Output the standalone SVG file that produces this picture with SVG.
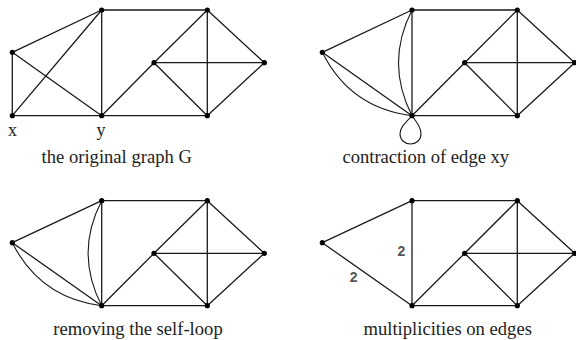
<svg xmlns="http://www.w3.org/2000/svg" width="576" height="340" viewBox="0 0 576 340">
<style>
.e{stroke:#1a1a1a;stroke-width:1.3;fill:none;stroke-linecap:round}
.c{stroke:#1a1a1a;stroke-width:1.1;fill:none}
.n{fill:#000}
.cap{font-family:"Liberation Serif","Times New Roman",serif;font-size:18.6px;fill:#222;text-anchor:middle}
.lab{font-family:"Liberation Serif","Times New Roman",serif;font-size:18px;fill:#222;text-anchor:middle}
.m{font-family:"Liberation Sans",Arial,sans-serif;font-size:14px;font-weight:bold;fill:#555;text-anchor:middle}
</style>
<defs>
<circle id="dot" r="2.6" class="n"/>
</defs>
<rect width="576" height="340" fill="#fff"/>

<!-- Panel 1: original graph G -->
<g id="panel1">
<g id="p1-edges">
<line class="e" x1="12.3" y1="52.3" x2="101.7" y2="10"/>
<line class="e" x1="12.3" y1="52.3" x2="12.3" y2="115.7"/>
<line class="e" x1="12.3" y1="52.3" x2="101.7" y2="115.7"/>
<line class="e" x1="12.3" y1="115.7" x2="101.7" y2="10"/>
<line class="e" x1="12.3" y1="115.7" x2="101.7" y2="115.7"/>
<line class="e" x1="101.7" y1="10" x2="101.7" y2="115.7"/>
<line class="e" x1="101.7" y1="10" x2="207.3" y2="10"/>
<line class="e" x1="101.7" y1="115.7" x2="154" y2="62.7"/>
<line class="e" x1="101.7" y1="115.7" x2="207.3" y2="115.7"/>
<line class="e" x1="154" y1="62.7" x2="207.3" y2="10"/>
<line class="e" x1="154" y1="62.7" x2="264.3" y2="62.7"/>
<line class="e" x1="154" y1="62.7" x2="207.3" y2="115.7"/>
<line class="e" x1="207.3" y1="10" x2="207.3" y2="115.7"/>
<line class="e" x1="207.3" y1="10" x2="264.3" y2="62.7"/>
<line class="e" x1="264.3" y1="62.7" x2="207.3" y2="115.7"/>
</g>
<g id="p1-a"><use href="#dot" x="12.3" y="52.3"/></g>
<g id="p1-x"><use href="#dot" x="12.3" y="115.7"/><text class="lab" x="12.5" y="136">x</text></g>
<g id="p1-t1"><use href="#dot" x="101.7" y="10"/></g>
<g id="p1-y"><use href="#dot" x="101.7" y="115.7"/><text class="lab" x="101" y="136">y</text></g>
<g id="p1-t2"><use href="#dot" x="207.3" y="10"/></g>
<g id="p1-m"><use href="#dot" x="154" y="62.7"/></g>
<g id="p1-r"><use href="#dot" x="264.3" y="62.7"/></g>
<g id="p1-b"><use href="#dot" x="207.3" y="115.7"/></g>
<text class="cap" x="116.7" y="163">the original graph G</text>
</g>

<!-- Panel 2: contraction of edge xy -->
<g id="panel2">
<g id="p2-edges">
<line class="e" x1="322.3" y1="52.3" x2="412" y2="10"/>
<line class="e" x1="322.3" y1="52.3" x2="412" y2="115.7"/>
<path class="c" d="M322.3,52.3 Q350,108 412,115.7"/>
<line class="e" x1="412" y1="10" x2="412" y2="115.7"/>
<path class="c" d="M412,10 Q385,63 412,115.7"/>
<path class="c" d="M412,115.7 C404,124 400,128 400,134 C400,140 405,144 410.5,144 C416,144 421,140 421,134 C421,128 418,124 412,115.7"/>
<line class="e" x1="412" y1="10" x2="517.3" y2="10"/>
<line class="e" x1="412" y1="115.7" x2="464.7" y2="62.7"/>
<line class="e" x1="412" y1="115.7" x2="517.3" y2="115.7"/>
<line class="e" x1="464.7" y1="62.7" x2="517.3" y2="10"/>
<line class="e" x1="464.7" y1="62.7" x2="574.7" y2="62.7"/>
<line class="e" x1="464.7" y1="62.7" x2="517.3" y2="115.7"/>
<line class="e" x1="517.3" y1="10" x2="517.3" y2="115.7"/>
<line class="e" x1="517.3" y1="10" x2="574.7" y2="62.7"/>
<line class="e" x1="574.7" y1="62.7" x2="517.3" y2="115.7"/>
</g>
<g id="p2-a"><use href="#dot" x="322.3" y="52.3"/></g>
<g id="p2-t1"><use href="#dot" x="412" y="10"/></g>
<g id="p2-xy"><use href="#dot" x="412" y="115.7"/></g>
<g id="p2-t2"><use href="#dot" x="517.3" y="10"/></g>
<g id="p2-m"><use href="#dot" x="464.7" y="62.7"/></g>
<g id="p2-r"><use href="#dot" x="574.7" y="62.7"/></g>
<g id="p2-b"><use href="#dot" x="517.3" y="115.7"/></g>
<text class="cap" x="425.8" y="163">contraction of edge xy</text>
</g>

<!-- Panel 3: removing the self-loop -->
<g id="panel3">
<g id="p3-edges">
<line class="e" x1="12.3" y1="242.7" x2="101.7" y2="200.7"/>
<line class="e" x1="12.3" y1="242.7" x2="101.7" y2="305.7"/>
<path class="c" d="M12.3,242.7 Q40,298 101.7,305.7"/>
<line class="e" x1="101.7" y1="200.7" x2="101.7" y2="305.7"/>
<path class="c" d="M101.7,200.7 Q74.5,253 101.7,305.7"/>
<line class="e" x1="101.7" y1="200.7" x2="207.3" y2="200.7"/>
<line class="e" x1="101.7" y1="305.7" x2="154" y2="253.3"/>
<line class="e" x1="101.7" y1="305.7" x2="207.3" y2="305.7"/>
<line class="e" x1="154" y1="253.3" x2="207.3" y2="200.7"/>
<line class="e" x1="154" y1="253.3" x2="264.3" y2="253.3"/>
<line class="e" x1="154" y1="253.3" x2="207.3" y2="305.7"/>
<line class="e" x1="207.3" y1="200.7" x2="207.3" y2="305.7"/>
<line class="e" x1="207.3" y1="200.7" x2="264.3" y2="253.3"/>
<line class="e" x1="264.3" y1="253.3" x2="207.3" y2="305.7"/>
</g>
<g id="p3-a"><use href="#dot" x="12.3" y="242.7"/></g>
<g id="p3-t1"><use href="#dot" x="101.7" y="200.7"/></g>
<g id="p3-xy"><use href="#dot" x="101.7" y="305.7"/></g>
<g id="p3-t2"><use href="#dot" x="207.3" y="200.7"/></g>
<g id="p3-m"><use href="#dot" x="154" y="253.3"/></g>
<g id="p3-r"><use href="#dot" x="264.3" y="253.3"/></g>
<g id="p3-b"><use href="#dot" x="207.3" y="305.7"/></g>
<text class="cap" x="138" y="335">removing the self-loop</text>
</g>

<!-- Panel 4: multiplicities on edges -->
<g id="panel4">
<g id="p4-edges">
<line class="e" x1="322.3" y1="242.7" x2="412" y2="200.7"/>
<line class="e" x1="322.3" y1="242.7" x2="412" y2="305.7"/>
<line class="e" x1="412" y1="200.7" x2="412" y2="305.7"/>
<line class="e" x1="412" y1="200.7" x2="517.3" y2="200.7"/>
<line class="e" x1="412" y1="305.7" x2="464.7" y2="253.3"/>
<line class="e" x1="412" y1="305.7" x2="517.3" y2="305.7"/>
<line class="e" x1="464.7" y1="253.3" x2="517.3" y2="200.7"/>
<line class="e" x1="464.7" y1="253.3" x2="574.7" y2="253.3"/>
<line class="e" x1="464.7" y1="253.3" x2="517.3" y2="305.7"/>
<line class="e" x1="517.3" y1="200.7" x2="517.3" y2="305.7"/>
<line class="e" x1="517.3" y1="200.7" x2="574.7" y2="253.3"/>
<line class="e" x1="574.7" y1="253.3" x2="517.3" y2="305.7"/>
<text class="m" x="401.3" y="255.8">2</text>
<text class="m" x="353.7" y="282.4">2</text>
</g>
<g id="p4-a"><use href="#dot" x="322.3" y="242.7"/></g>
<g id="p4-t1"><use href="#dot" x="412" y="200.7"/></g>
<g id="p4-xy"><use href="#dot" x="412" y="305.7"/></g>
<g id="p4-t2"><use href="#dot" x="517.3" y="200.7"/></g>
<g id="p4-m"><use href="#dot" x="464.7" y="253.3"/></g>
<g id="p4-r"><use href="#dot" x="574.7" y="253.3"/></g>
<g id="p4-b"><use href="#dot" x="517.3" y="305.7"/></g>
<text class="cap" x="447.7" y="335">multiplicities on edges</text>
</g>
</svg>
